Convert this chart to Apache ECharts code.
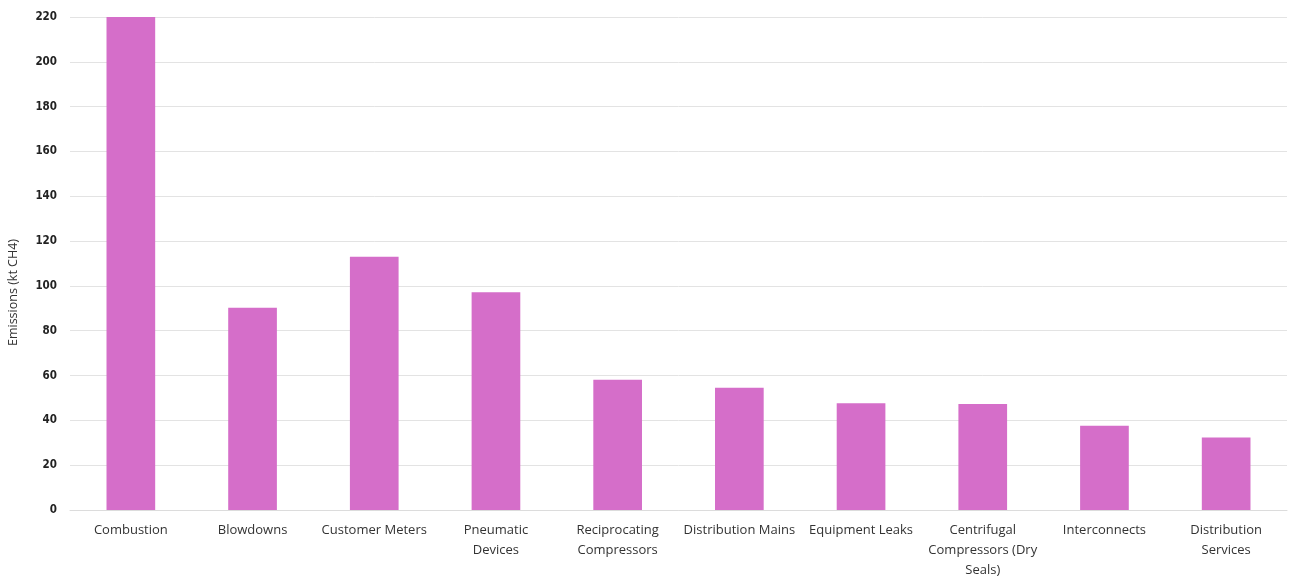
<!DOCTYPE html>
<html>
<head>
<meta charset="utf-8">
<script src="https://cdn.jsdelivr.net/npm/echarts@6/dist/echarts.min.js"></script>
<style>
  html, body { margin: 0; padding: 0; background: #ffffff; }
  #chart { width: 1291px; height: 577px; }
</style>
</head>
<body>
<div id="chart"></div>
<script>
// Methane emission sources (kt CH4)
const categories = [
  'Combustion', 'Blowdowns', 'Customer Meters', 'Pneumatic\nDevices',
  'Reciprocating\nCompressors', 'Distribution Mains', 'Equipment Leaks',
  'Centrifugal\nCompressors (Dry\nSeals)', 'Interconnects', 'Distribution\nServices'
];
const emissions = [220, 90.2, 113.0, 97.2, 58.1, 54.5, 47.6, 47.3, 37.6, 32.4];
const yTicks = { min: 0, max: 220, interval: 20 };

const chart = echarts.init(document.getElementById('chart'), null, { renderer: 'canvas' });
chart.setOption({
  animation: false,
  backgroundColor: '#ffffff',
  grid: { left: 70, right: 4, top: 17, bottom: 67, containLabel: false, outerBoundsMode: 'none' },
  xAxis: {
    type: 'category',
    data: categories,
    axisLine: { show: true, lineStyle: { color: '#dcdcdc', width: 1 } },
    axisTick: { show: false },
    axisLabel: {
      color: '#333333',
      fontFamily: '"Open Sans", Lato, sans-serif',
      fontSize: 13,
      lineHeight: 20,
      margin: 10,
      interval: 0
    }
  },
  yAxis: {
    type: 'value',
    min: yTicks.min,
    max: yTicks.max,
    interval: yTicks.interval,
    name: 'Emissions (kt CH4)',
    nameLocation: 'middle',
    nameGap: 50,
    nameRotate: 90,
    nameTextStyle: {
      color: '#333333',
      fontFamily: '"Open Sans", Lato, sans-serif',
      fontSize: 12.5,
      padding: [0, 0, 0, -58]
    },
    axisLine: { show: false },
    axisTick: { show: false },
    splitLine: { lineStyle: { color: '#e3e3e3', width: 1 } },
    axisLabel: {
      color: '#222222',
      fontWeight: 'bold',
      fontFamily: '"DejaVu Sans Condensed", "Liberation Sans Narrow", sans-serif',
      fontSize: 11.5,
      margin: 13
    }
  },
  series: [{
    type: 'bar',
    data: emissions,
    barWidth: '40%',
    itemStyle: { color: '#d56ec9' }
  }]
});
</script>
</body>
</html>
